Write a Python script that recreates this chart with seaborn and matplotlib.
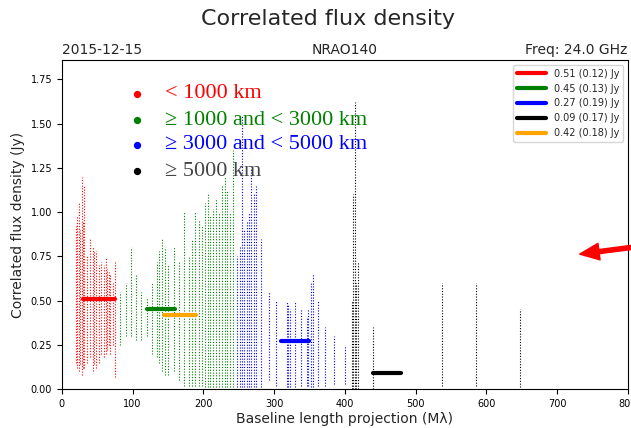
import matplotlib
matplotlib.use("Agg")
import matplotlib.pyplot as plt
import seaborn as sns

sns.set_style("ticks")
plt.rcParams['font.family'] = ['DejaVu Sans']

# vertical strips of scattered visibility points: (baseline Mλ, low Jy, high Jy)
red_x = [20, 22, 24, 26, 28, 30, 32, 36, 40, 44, 46, 48, 52, 56, 60, 62, 64, 66, 68, 72, 75]
red_lo = [0.15, 0.12, 0.10, 0.14, 0.08, 0.12, 0.12, 0.15, 0.18, 0.10, 0.14, 0.12, 0.15, 0.20, 0.18, 0.20, 0.22, 0.25, 0.20, 0.25, 0.07]
red_hi = [0.92, 0.98, 1.05, 0.90, 1.20, 0.95, 1.15, 0.75, 0.85, 0.80, 0.78, 0.78, 0.70, 0.72, 0.70, 0.74, 0.68, 0.66, 0.65, 0.60, 0.72]
green_x = [82, 90, 98, 105, 112, 120, 128, 134, 138, 142, 146, 150, 158, 166, 172, 180, 184, 188, 194, 198, 202, 206, 210, 214, 218, 222, 226, 230, 234, 238, 242]
green_lo = [0.25, 0.30, 0.30, 0.28, 0.28, 0.30, 0.20, 0.18, 0.15, 0.10, 0.08, 0.08, 0.10, 0.05, 0.02, 0.02, 0.02, 0.02, 0.02, 0.02, 0.01, 0.01, 0.01, 0.01, 0.01, 0.01, 0.01, 0.01, 0.01, 0.01, 0.01]
green_hi = [0.55, 0.60, 0.80, 0.65, 0.55, 0.52, 0.60, 0.72, 0.78, 0.85, 0.80, 0.70, 0.80, 0.72, 1.00, 0.75, 0.85, 1.00, 0.95, 0.92, 1.05, 1.10, 0.98, 1.02, 1.08, 1.00, 1.15, 1.20, 1.12, 1.00, 1.35]
blue_x = [248, 252, 255, 258, 262, 265, 268, 272, 275, 282, 293, 302, 318, 320, 322, 330, 338, 346, 348, 352, 355, 362, 372, 385, 400]
blue_lo = [0.01, 0.01, 0.01, 0.01, 0.01, 0.01, 0.01, 0.01, 0.01, 0.01, 0.05, 0.02, 0.01, 0.01, 0.01, 0.01, 0.02, 0.02, 0.02, 0.01, 0.01, 0.02, 0.02, 0.03, 0.03]
blue_hi = [0.75, 0.80, 1.55, 0.90, 0.95, 1.00, 1.25, 1.10, 1.15, 0.85, 0.55, 0.50, 0.50, 0.48, 0.45, 0.50, 0.45, 0.40, 0.45, 0.60, 0.65, 0.50, 0.35, 0.30, 0.25]
black_x = [410, 412, 414, 416, 418, 440, 537, 585, 648]
black_lo = [0.0, 0.0, 0.0, 0.0, 0.0, 0.0, 0.02, 0.02, 0.01]
black_hi = [0.50, 1.10, 1.62, 0.60, 0.72, 0.35, 0.60, 0.60, 0.45]

# mean flux lines: (label, colour, value, x start, x end)
mean_labels = ["0.51 (0.12) Jy", "0.45 (0.13) Jy", "0.27 (0.19) Jy", "0.09 (0.17) Jy", "0.42 (0.18) Jy"]
mean_colors = ["red", "green", "blue", "black", "orange"]
mean_vals = [0.51, 0.45, 0.27, 0.09, 0.42]
mean_x0 = [30, 120, 310, 440, 145]
mean_x1 = [75, 160, 350, 480, 190]

group_labels = ["< 1000 km", "≥ 1000 and < 3000 km", "≥ 3000 and < 5000 km", "≥ 5000 km"]
group_colors = ["red", "green", "blue", "black"]
group_text_colors = ["red", "green", "blue", "#444444"]

fig = plt.figure(figsize=(6.31, 4.28), dpi=100)
ax = fig.add_axes([0.098, 0.091, 0.897, 0.769])

for xs, lo, hi, c in [(red_x, red_lo, red_hi, "red"), (green_x, green_lo, green_hi, "green"),
                      (blue_x, blue_lo, blue_hi, "blue"), (black_x, black_lo, black_hi, "black")]:
    ax.vlines(xs, lo, hi, colors=c, linestyles=(0, (1, 1.5)), linewidth=0.8)

for lab, c, v, x0, x1 in zip(mean_labels, mean_colors, mean_vals, mean_x0, mean_x1):
    ax.plot([x0, x1], [v, v], color=c, lw=3, label=lab)

ax.legend(loc="upper right", fontsize=7, handlelength=3, framealpha=0.8)

ys = [1.67, 1.52, 1.38, 1.23]
for lab, c, tc, y in zip(group_labels, group_colors, group_text_colors, ys):
    ax.scatter([106], [y], color=c, s=18, zorder=5)
    ax.text(146, y, lab, color=tc, fontsize=16, family="Liberation Serif", va="center")

ax.annotate("", xy=(0.915, 0.41), xycoords="axes fraction", xytext=(1.05, 0.44),
            arrowprops=dict(color="red", width=3, headwidth=12, headlength=14), annotation_clip=False)

ax.set_xlim(0, 800)
ax.set_ylim(0, 1.86)
ax.set_yticks([0, 0.25, 0.5, 0.75, 1.0, 1.25, 1.5, 1.75])
ax.set_yticklabels(["0.00", "0.25", "0.50", "0.75", "1.00", "1.25", "1.50", "1.75"])
for s in ax.spines.values():
    s.set_color("black")
ax.tick_params(labelsize=7, colors="black")
ax.set_xlabel("Baseline length projection (Mλ)", fontsize=10, labelpad=2)
ax.set_ylabel("Correlated flux density (Jy)", fontsize=10)
ax.set_title("2015-12-15", loc="left", fontsize=10, pad=4)
ax.set_title("NRAO140", loc="center", fontsize=10, pad=4)
ax.set_title("Freq: 24.0 GHz", loc="right", fontsize=10, pad=4)
fig.text(0.52, 0.955, "Correlated flux density", ha="center", va="center", fontsize=16)

fig.savefig("out.png", dpi=100)
